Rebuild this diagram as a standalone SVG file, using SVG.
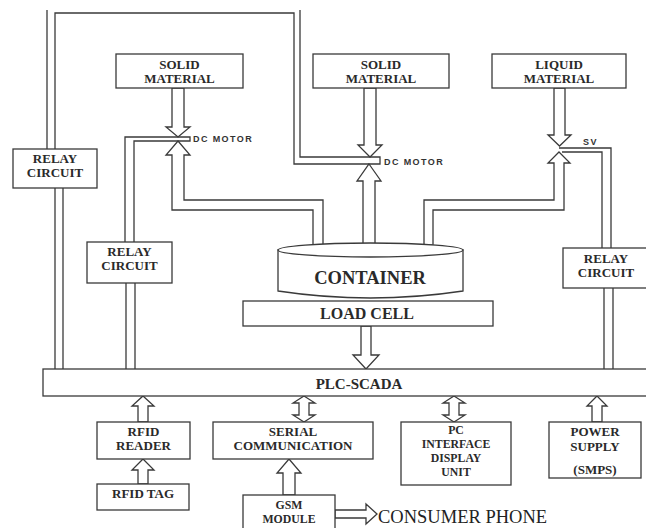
<svg xmlns="http://www.w3.org/2000/svg" width="646" height="528" viewBox="0 0 646 528">
<style>
.b{fill:#fff;stroke:#3a3a3a;stroke-width:1.3}
.l{fill:none;stroke:#3a3a3a;stroke-width:1.3}
.t{font-family:"Liberation Serif","Times New Roman",serif;font-weight:bold;font-size:13px;fill:#2a2a2a;text-anchor:middle}
.m{font-size:11.8px}
.s{font-family:"Liberation Sans",Arial,sans-serif;font-weight:bold;font-size:9px;fill:#333;letter-spacing:1.4px}
</style>
<rect width="646" height="528" fill="#fff"/>
<g id="connectors">
<line class="l" x1="47" y1="10" x2="47" y2="149"/>
<polyline class="l" points="55,149 55,13 294,13 294,164 380,164 380,157 300,157 300,10"/>
<line class="l" x1="55" y1="188" x2="55" y2="369"/>
<line class="l" x1="63" y1="188" x2="63" y2="369"/>
<polyline class="l" points="125,242 125,137 190,137 190,141 134,141 134,242"/>
<line class="l" x1="126" y1="283" x2="126" y2="369"/>
<line class="l" x1="135" y1="283" x2="135" y2="369"/>
<polygon class="b" points="172,88 184,88 184,127 190,127 178,137 166,127 172,127"/>
<polygon class="b" points="178,141 190,155 184,155 184,200 323,200 323,245 313,245 313,210 172,210 172,155 166,155"/>
<polygon class="b" points="364,88 376,88 376,145 382,145 370,157 358,145 364,145"/>
<polygon class="b" points="369,164 381,181 375,181 375,245 363,245 363,181 357,181"/>
<polygon class="b" points="554,88 565,88 565,135 571,135 559.5,146 548,135 554,135"/>
<polyline class="l" points="559,148 611,148 611,248"/>
<polyline class="l" points="562,152 602,152 602,248"/>
<polygon class="b" points="559,152 570,163 564,163 564,210 433,210 433,245 424,245 424,200 554,200 554,163 548,163"/>
<line class="l" x1="604" y1="288" x2="604" y2="369"/>
<line class="l" x1="613" y1="288" x2="613" y2="369"/>
<polygon class="b" points="361,326 371,326 371,355 379,355 366,369 353,355 361,355"/>
<polygon class="b" points="143,396 154,406 148,406 148,422 138,422 138,406 132,406"/>
<polygon class="b" points="143,459 154,470 148,470 148,484 138,484 138,470 132,470"/>
<polygon class="b" points="304,396 315,403 309,403 309,415 315,415 304,422 293,415 299,415 299,403 293,403"/>
<polygon class="b" points="454,396 465,403 459,403 459,415 465,415 454,422 443,415 449,415 449,403 443,403"/>
<polygon class="b" points="597,396 607,406 602,406 602,422 592,422 592,406 587,406"/>
<polygon class="b" points="289,459 301,473 295,473 295,495 283,495 283,473 277,473"/>
<polygon class="b" points="335,510 366,510 366,504 377,514 366,524 366,518 335,518"/>
</g>
<g id="solid1"><rect class="b" x="116" y="54" width="127" height="34"/><text class="t" x="179.5" y="69">SOLID</text><text class="t" x="179.5" y="83">MATERIAL</text></g>
<g id="solid2"><rect class="b" x="313" y="54" width="136" height="34"/><text class="t" x="381" y="69">SOLID</text><text class="t" x="381" y="83">MATERIAL</text></g>
<g id="liquid"><rect class="b" x="492" y="54" width="134" height="34"/><text class="t" x="559" y="69">LIQUID</text><text class="t" x="559" y="83">MATERIAL</text></g>
<g id="dcmotor1"><text class="s" x="193" y="142">DC MOTOR</text></g>
<g id="dcmotor2"><text class="s" x="384" y="165">DC MOTOR</text></g>
<g id="sv"><text class="s" x="583" y="145">SV</text></g>
<g id="relay1"><rect class="b" x="13" y="149" width="84" height="39"/><text class="t" x="55" y="163">RELAY</text><text class="t" x="55" y="177">CIRCUIT</text></g>
<g id="relay2"><rect class="b" x="87" y="242" width="85" height="41"/><text class="t" x="129.5" y="256">RELAY</text><text class="t" x="129.5" y="270">CIRCUIT</text></g>
<g id="relay3"><rect class="b" x="563" y="248" width="88" height="40"/><text class="t" x="606" y="263">RELAY</text><text class="t" x="606" y="277">CIRCUIT</text></g>
<g id="container">
<path class="b" d="M278,250 L278,291 Q370.5,305 463,291 L463,250 Z"/>
<ellipse class="b" cx="370.5" cy="250" rx="92.5" ry="7"/>
<text class="t" x="370" y="284" style="font-size:18.5px">CONTAINER</text>
</g>
<g id="loadcell"><rect class="b" x="243" y="301" width="250" height="25"/><text class="t" x="367" y="319" style="font-size:16px">LOAD CELL</text></g>
<g id="plc"><rect class="b" x="43" y="369" width="620" height="27"/><text class="t" x="359" y="389" style="font-size:15px">PLC-SCADA</text></g>
<g id="rfidreader"><rect class="b" x="97" y="422" width="93" height="37"/><text class="t" x="143.5" y="436">RFID</text><text class="t" x="143.5" y="450">READER</text></g>
<g id="rfidtag"><rect class="b" x="97" y="484" width="92" height="26"/><text class="t" x="143" y="498">RFID TAG</text></g>
<g id="serial"><rect class="b" x="213" y="422" width="160" height="37"/><text class="t" x="293" y="436">SERIAL</text><text class="t" x="293" y="450">COMMUNICATION</text></g>
<g id="gsm"><rect class="b" x="243" y="495" width="92" height="40"/><text class="t m" x="289" y="509">GSM</text><text class="t m" x="289" y="523">MODULE</text></g>
<g id="pc"><rect class="b" x="401" y="422" width="110" height="63"/><text class="t m" x="456" y="434">PC</text><text class="t m" x="456" y="448">INTERFACE</text><text class="t m" x="456" y="462">DISPLAY</text><text class="t m" x="456" y="476">UNIT</text></g>
<g id="power"><rect class="b" x="549" y="422" width="92" height="56"/><text class="t" x="595" y="436">POWER</text><text class="t" x="595" y="451">SUPPLY</text><text class="t" x="595" y="474">(SMPS)</text></g>
<g id="consumer"><text x="378" y="523" style="font-family:'Liberation Serif','Times New Roman',serif;font-size:18.5px;fill:#222">CONSUMER PHONE</text></g>
</svg>
